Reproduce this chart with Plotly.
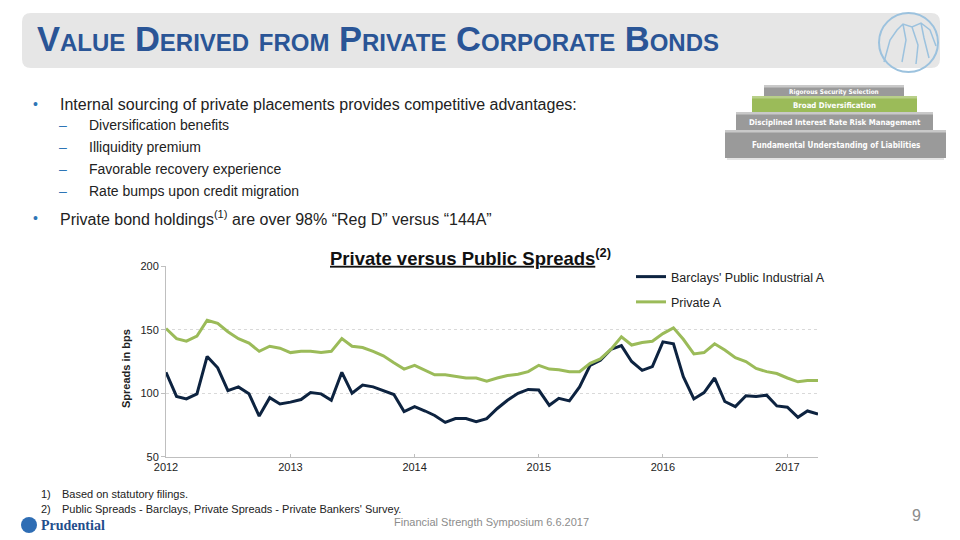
import pandas as pd
import plotly.graph_objects as go

# monthly spreads (bps), Jan 2012 - Apr 2017
months = pd.date_range("2012-01-01", periods=64, freq="MS")

barclays = [116.5, 97.5, 95.5, 99.5, 129, 120, 102, 105, 99.5, 82, 96.5, 91.5,
            93, 95, 100.5, 99.5, 94.5, 116.5, 100, 106.5, 105, 102, 99, 85.5,
            89.5, 86, 82.5, 77, 80, 80, 77.5, 80, 88, 94.5, 100, 103,
            102.5, 90.5, 96, 94, 105, 122, 126, 134.5, 137.5, 125, 118, 121,
            140.5, 139, 113, 95.5, 100.5, 112, 93.5, 89.5, 98, 97.5, 98.5, 90,
            89, 81, 86, 83.5]

private_a = [151, 143, 141, 145, 157.5, 155, 148.5, 143, 139.5, 133, 137, 135.5,
             132, 133, 133, 132, 133, 143, 137, 136, 133, 129.5, 124, 119,
             122, 118, 114.5, 114.5, 113.5, 112, 112, 109.5, 112, 114, 115, 117,
             122, 119, 118.5, 117, 117, 123.5, 127, 134.5, 144.5, 138, 140, 141,
             147, 151.5, 142.5, 131, 132, 139, 134, 128, 125, 119.5, 117, 115.5,
             112, 109, 110, 110]

series_names = ["Barclays' Public Industrial A", "Private A"]

bullets = ["Internal sourcing of private placements provides competitive advantages:"]
sub_bullets = ["Diversification benefits", "Illiquidity premium",
               "Favorable recovery experience", "Rate bumps upon credit migration"]
last_bullet = "Private bond holdings<sup>(1)</sup> are over 98% \u201cReg D\u201d versus \u201c144A\u201d"

tiers = ["Rigorous Security Selection", "Broad Diversification",
         "Disciplined Interest Rate Risk Management",
         "Fundamental Understanding of Liabilities"]

footnotes = ["Based on statutory filings.",
             "Public Spreads - Barclays, Private Spreads - Private Bankers' Survey."]

W, H = 960, 540
NAVY = "#0D2340"
GREEN = "#9BBB59"
BLUE_T = "#2A5596"
FONT = "Liberation Sans, Arial, sans-serif"
NARROW = "DejaVu Sans Condensed, sans-serif"

fig = go.Figure()

fig.add_trace(go.Scatter(x=months, y=barclays, name=series_names[0], mode="lines",
                         line=dict(color=NAVY, width=3), legendgroup="a"))
fig.add_trace(go.Scatter(x=months, y=private_a, name=series_names[1], mode="lines",
                         line=dict(color=GREEN, width=3), legendgroup="b"))

# invisible pixel-space axes for slide decorations
fig.add_trace(go.Scatter(x=[480], y=[270], xaxis="x2", yaxis="y2", mode="markers",
                         marker=dict(opacity=0), showlegend=False, hoverinfo="skip"))

x0, x1 = 166, 818
y0, y1 = 266.3, 456.7

fig.update_layout(
    width=W, height=H, autosize=False,
    margin=dict(l=0, r=0, t=0, b=0, pad=0, autoexpand=False),
    paper_bgcolor="white", plot_bgcolor="rgba(0,0,0,0)",
    font=dict(family=FONT, color="#222"),
    showlegend=True,
    legend=dict(x=631 / W, y=1 - 262 / H, xanchor="left", yanchor="top",
                bgcolor="rgba(0,0,0,0)", font=dict(size=12.5, color="#222"),
                traceorder="grouped", tracegroupgap=6, itemwidth=30),
    xaxis=dict(domain=[x0 / W, x1 / W], range=["2012-01-01", "2017-04-01"],
               tickformat="%Y", dtick="M12", tick0="2012-01-01", automargin=False,
               showgrid=False, showline=True, linecolor="#BFBFBF", linewidth=1,
               ticks="inside", ticklen=3, tickcolor="#BFBFBF",
               tickfont=dict(size=11, color="#222"), zeroline=False),
    yaxis=dict(domain=[1 - y1 / H, 1 - y0 / H], range=[50, 200], dtick=50, automargin=False,
               showgrid=True, gridcolor="#D9D9D9", griddash="dot",
               showline=True, linecolor="#BFBFBF", linewidth=1,
               ticks="outside", ticklen=4, tickcolor="#BFBFBF",
               tickfont=dict(size=11, color="#222"), zeroline=False),
    xaxis2=dict(domain=[0, 1], range=[0, W], visible=False, anchor="y2", automargin=False),
    yaxis2=dict(domain=[0, 1], range=[H, 0], visible=False, anchor="x2", automargin=False),
)

shapes = []


def rrect(xa, ya, xb, yb, r):
    return (f"M{xa + r},{ya} L{xb - r},{ya} Q{xb},{ya} {xb},{ya + r} "
            f"L{xb},{yb - r} Q{xb},{yb} {xb - r},{yb} L{xa + r},{yb} "
            f"Q{xa},{yb} {xa},{yb - r} L{xa},{ya + r} Q{xa},{ya} {xa + r},{ya} Z")


# title banner
shapes.append(dict(type="path", xref="x2", yref="y2", path=rrect(22, 13, 940, 68, 9),
                   fillcolor="#E6E6E6", line=dict(width=0), layer="below"))
# rock logo
shapes.append(dict(type="circle", xref="x2", yref="y2", x0=879, x1=938, y0=13, y1=72,
                   line=dict(color="#9CC2DE", width=2), layer="below"))
shapes.append(dict(type="path", xref="x2", yref="y2",
                   path="M884,62 L890,40 L897,30 L903,24 L912,27 L921,23 L930,30 L936,46 "
                        "M903,24 L906,40 L902,62 M912,27 L918,45 L916,64 M921,23 L924,38 L929,58",
                   line=dict(color="#9CC2DE", width=1.5), layer="below"))

# pyramid
tier_box = [(764, 85, 904, 96), (752, 96, 917, 112), (736, 112, 933, 130), (725, 130, 946, 158)]
tier_fill = ["#9A9A9A", GREEN, "#9A9A9A", "#9A9A9A"]
tier_top = ["#C9C9C9", "#B9D08A", "#C9C9C9", "#C9C9C9"]
tier_size = [6.4, 7.8, 7.8, 8]
for (a, b, c, d), fc, tc in zip(tier_box, tier_fill, tier_top):
    shapes.append(dict(type="rect", xref="x2", yref="y2", x0=a, x1=c, y0=b, y1=d,
                       fillcolor=fc, line=dict(width=0), layer="below"))
    shapes.append(dict(type="rect", xref="x2", yref="y2", x0=a, x1=c, y0=b, y1=b + 2.5,
                       fillcolor=tc, line=dict(width=0), layer="below"))
shapes.append(dict(type="rect", xref="x2", yref="y2", x0=727, x1=944, y0=158, y1=160,
                   fillcolor="#E4E4E4", line=dict(width=0), layer="below"))

# prudential icon
shapes.append(dict(type="circle", xref="x2", yref="y2", x0=21, x1=37, y0=517, y1=533,
                   fillcolor="#2E6DB4", line=dict(width=0)))

fig.update_layout(shapes=shapes)

ann = []


def txt(x, y, s, size, color="#222", xa="left", ya="middle", family=FONT, **kw):
    ann.append(dict(xref="x2", yref="y2", x=x, y=y, text=s, showarrow=False,
                    xanchor=xa, yanchor=ya, font=dict(size=size, color=color, family=family, **kw)))


txt(35, 39, "<b>Value Derived from Private Corporate Bonds</b>", 34.5, BLUE_T, variant="small-caps")

for (a, b, c, d), t, s in zip(tier_box, tiers, tier_size):
    txt((a + c) / 2, (b + d) / 2 + 1, "<b>" + t + "</b>", s, "white", xa="center", family=NARROW)

txt(35, 104, "\u2022", 14, "#2E75B6", xa="center")
txt(58, 104, bullets[0], 16)
for i, s in enumerate(sub_bullets):
    yy = 125 + i * 22
    txt(63, yy, "\u2013", 14, "#2E75B6", xa="center")
    txt(87, yy, s, 14)
txt(35, 218, "\u2022", 14, "#2E75B6", xa="center")
txt(58, 218, last_bullet, 16)

txt(470, 257, "<b><u>Private versus Public Spreads</u><sup>(2)</sup></b>", 18.5, "#111", xa="center")

# y axis title
ann.append(dict(xref="x2", yref="y2", x=126, y=369, text="<b>Spreads in bps</b>", showarrow=False,
                textangle=-90, xanchor="center", yanchor="middle",
                font=dict(size=11, color="#222", family=FONT)))

for i, s in enumerate(footnotes):
    yy = 494 + i * 15
    txt(46, yy, f"{i + 1})", 11, xa="center")
    txt(60, yy, s, 11)

txt(39, 525, "<b>Prudential</b>", 14, "#1F4E8C", family="Liberation Serif, serif")
txt(392, 522, "Financial Strength Symposium 6.6.2017", 11, "#8C8C8C")
txt(916, 515, "9", 16, "#8C8C8C", xa="center")

fig.update_layout(annotations=ann)

fig.write_html("out.html", config={"displayModeBar": False},
               post_script="document.body.style.margin='0';")
